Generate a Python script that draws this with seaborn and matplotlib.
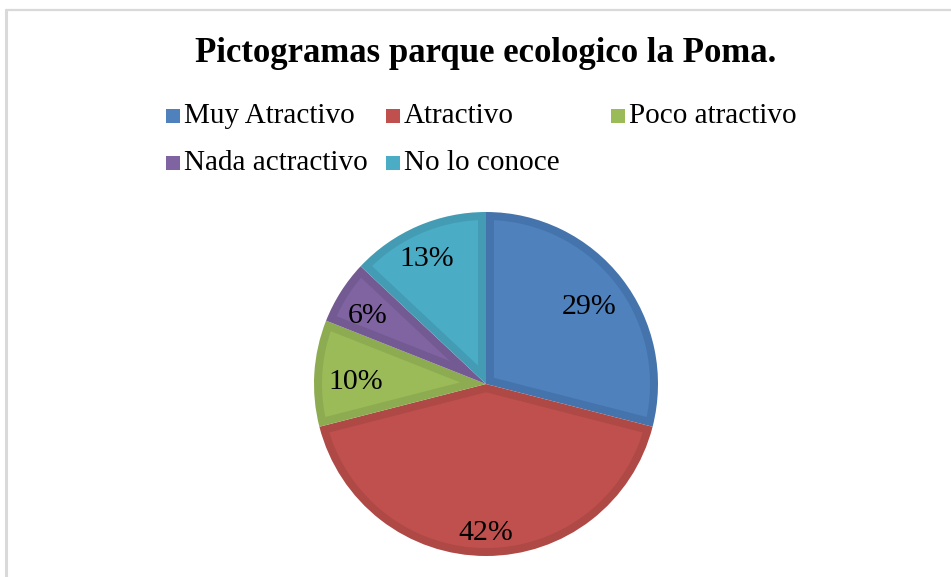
import matplotlib
matplotlib.use("Agg")
import matplotlib.pyplot as plt
from matplotlib.patches import Rectangle, Polygon
import numpy as np
import seaborn as sns

# Datos del gráfico
categorias = ["Muy Atractivo", "Atractivo", "Poco atractivo", "Nada actractivo", "No lo conoce"]
porcentajes = [29, 42, 10, 6, 13]
titulo = "Pictogramas parque ecologico la Poma."

sns.set_theme(style="white")
plt.rcParams["font.family"] = ["Liberation Serif", "DejaVu Serif"]

colores = ["#4F81BD", "#C0504D", "#9BBB59", "#8064A2", "#4BACC6"]
bordes = ["#4574AD", "#AF4946", "#8DAB50", "#735A93", "#449CB4"]

W, H = 951, 577
fig = plt.figure(figsize=(W / 100, H / 100), dpi=100)
fig.patch.set_facecolor("white")

# marco gris del área del gráfico
fig.add_artist(plt.Line2D([6 / W, 6 / W], [0, 1 - 10 / H], transform=fig.transFigure,
                          color="#D9D9D9", lw=2.2))
fig.add_artist(plt.Line2D([6 / W, 1], [1 - 10 / H, 1 - 10 / H], transform=fig.transFigure,
                          color="#D9D9D9", lw=1.6))

fig.text(486 / W, 1 - 53 / H, titulo, ha="center", va="center",
         fontsize=25, fontweight="bold", color="black")

# leyenda colocada a mano (estilo Excel)
pos_leyenda = [(166, 116), (386, 116), (611, 116), (166, 163), (386, 163)]
for (px, py), etiqueta, c in zip(pos_leyenda, categorias, colores):
    fig.add_artist(Rectangle((px / W, 1 - (py + 7) / H), 14 / W, 14 / H,
                             transform=fig.transFigure, facecolor=c, edgecolor="none"))
    fig.text((px + 18) / W, 1 - py / H, etiqueta, ha="left", va="center",
             fontsize=21, color="black")

# pastel
cx, cy, r = 486, 384, 172
ax = fig.add_axes([(cx - r) / W, 1 - (cy + r) / H, 2 * r / W, 2 * r / H])
wedges = ax.pie(porcentajes, colors=bordes, startangle=90, counterclock=False,
                radius=1, wedgeprops=dict(linewidth=0))[0]

# relleno interior (borde oscuro hacia dentro, como en Excel)
d = 8 / r
for w, c in zip(wedges, colores):
    t1, t2 = np.deg2rad(w.theta1), np.deg2rad(w.theta2)
    mitad = (t2 - t1) / 2
    a = d / np.sin(mitad)
    bis = (t1 + t2) / 2
    delta = np.arcsin(d / (1 - d))
    arco = np.linspace(t1 + delta, t2 - delta, 120)
    xs = np.r_[a * np.cos(bis), (1 - d) * np.cos(arco)]
    ys = np.r_[a * np.sin(bis), (1 - d) * np.sin(arco)]
    ax.add_patch(Polygon(np.c_[xs, ys], closed=True, facecolor=c, edgecolor="none"))

# etiquetas de porcentaje
distancias = [0.76, 0.85, 0.76, 0.80, 0.82]
desfase = [0, 0, 1.5, 1.5, 1.5]
for w, p, dist, da in zip(wedges, porcentajes, distancias, desfase):
    ang = np.deg2rad((w.theta1 + w.theta2) / 2 + da)
    ax.text(dist * np.cos(ang), dist * np.sin(ang) - 0.018, f"{p}%", ha="center",
            va="center", fontsize=21.5, color="black")

ax.set_xlim(-1, 1)
ax.set_ylim(-1, 1)
ax.set_aspect("equal")
ax.axis("off")

fig.savefig("out.png", dpi=100, facecolor="white")
